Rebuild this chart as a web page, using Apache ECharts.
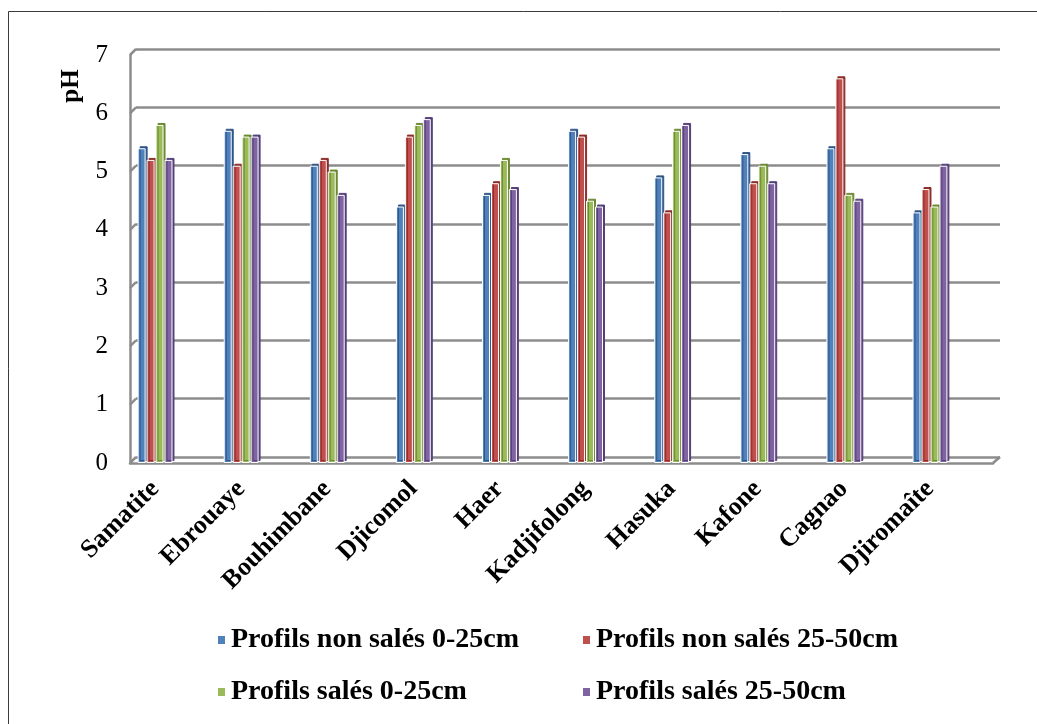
<!DOCTYPE html>
<html>
<head>
<meta charset="utf-8">
<script src="https://cdn.jsdelivr.net/npm/echarts@6/dist/echarts.min.js"></script>
<style>
  html, body { margin: 0; padding: 0; background: #fff; }
  #chart { width: 1037px; height: 724px; }
</style>
</head>
<body>
<div id="chart"></div>
<script>
// Sites along the category axis
const sites = ['Samatite', 'Ebrouaye', 'Bouhimbane', 'Djicomol', 'Haer', 'Kadjifolong', 'Hasuka', 'Kafone', 'Cagnao', 'Djiromaîte'];
// Series names
const seriesNames = ['Profils non salés 0-25cm', 'Profils non salés 25-50cm', 'Profils salés 0-25cm', 'Profils salés 25-50cm'];
// pH values per site
const nonSales0_25 = [5.4, 5.7, 5.1, 4.4, 4.6, 5.7, 4.9, 5.3, 5.4, 4.3];
const nonSales25_50 = [5.2, 5.1, 5.2, 5.6, 4.8, 5.6, 4.3, 4.8, 6.6, 4.7];
const sales0_25 = [5.8, 5.6, 5.0, 5.8, 5.2, 4.5, 5.7, 5.1, 4.6, 4.4];
const sales25_50 = [5.2, 5.6, 4.6, 5.9, 4.7, 4.4, 5.8, 4.8, 4.5, 5.1];
// pH axis ticks
const phTicks = [0, 1, 2, 3, 4, 5, 6, 7];

const colors = ['#4F81BD', '#C0504D', '#9BBB59', '#8064A2'];
const sideColors = ['#2f5687', '#8c2d2a', '#6b8a33', '#55407a'];
const gridGray = '#8c8c8c';
const serif = '"Liberation Serif", "Times New Roman", serif';
const yMin = phTicks[0];
const yMax = phTicks[phTicks.length - 1];

const values = [nonSales0_25, nonSales25_50, sales0_25, sales25_50];

// back wall, front edge and bar area of the pseudo-3D frame
const backGrid = { left: 136, right: 37, top: 49, bottom: 267 };
const frontGrid = { left: 130, right: 44, top: 55, bottom: 261 };
const barGrid = { left: 112, right: 64, top: 55, bottom: 261 };

const chart = echarts.init(document.getElementById('chart'), null, { renderer: 'canvas' });
const W = chart.getWidth();

const legendText = { color: '#000', fontFamily: serif, fontWeight: 'bold', fontSize: 28, lineHeight: 30 };

const option = {
  animation: false,
  backgroundColor: '#fff',
  grid: [backGrid, frontGrid, barGrid],
  xAxis: [
    { gridIndex: 0, type: 'value', min: 0, max: 1, show: false },
    {
      gridIndex: 1, type: 'category', data: sites,
      axisLine: { show: true, lineStyle: { color: gridGray, width: 2.5 } },
      axisTick: { show: false }, axisLabel: { show: false }, splitLine: { show: false }
    },
    {
      gridIndex: 2, type: 'category', data: sites,
      axisLine: { show: false }, axisTick: { show: false }, splitLine: { show: false },
      axisLabel: {
        interval: 0, rotate: 45, margin: 22,
        color: '#000', fontFamily: serif, fontWeight: 'bold', fontSize: 26
      }
    }
  ],
  yAxis: [
    {
      gridIndex: 0, type: 'value', min: yMin, max: yMax, interval: 1,
      axisLine: { show: false }, axisTick: { show: false }, axisLabel: { show: false },
      splitLine: { show: true, lineStyle: { color: gridGray, width: 2.5 } }
    },
    {
      gridIndex: 1, type: 'value', min: yMin, max: yMax, interval: 1,
      axisLine: { show: true, lineStyle: { color: gridGray, width: 2.5 } },
      axisTick: { show: false }, splitLine: { show: false },
      axisLabel: { margin: 22, color: '#000', fontFamily: serif, fontSize: 25 }
    },
    { gridIndex: 2, type: 'value', min: yMin, max: yMax, show: false }
  ],
  legend: [
    {
      data: [seriesNames[0], seriesNames[2]], orient: 'vertical', left: 211, top: 620,
      icon: 'rect', itemWidth: 9, itemHeight: 10, itemGap: 22,
      textStyle: legendText
    },
    {
      data: [seriesNames[1], seriesNames[3]], orient: 'vertical', left: 576, top: 620,
      icon: 'rect', itemWidth: 9, itemHeight: 10, itemGap: 22,
      textStyle: legendText
    }
  ],
  series: seriesNames.map((name, i) => ({
    name: name,
    type: 'bar',
    xAxisIndex: 2,
    yAxisIndex: 2,
    data: values[i],
    barWidth: 8,
    barGap: '12%',
    itemStyle: {
      color: colors[i],
      borderColor: '#fff',
      borderWidth: 1,
      shadowColor: sideColors[i],
      shadowBlur: 0,
      shadowOffsetX: 2,
      shadowOffsetY: -2
    },
    z: 3
  }))
};

chart.setOption(option);

// 3D frame edges: slanted joins between the front axis and the back wall
const frameGraphics = [];
const backLeft = backGrid.left;
const backRight = W - backGrid.right;
const frontLeft = frontGrid.left;
const frontRight = W - frontGrid.right;
phTicks.forEach(v => {
  const yFront = chart.convertToPixel({ yAxisIndex: 1 }, v);
  const yBack = chart.convertToPixel({ yAxisIndex: 0 }, v);
  frameGraphics.push({
    type: 'line',
    shape: { x1: frontLeft, y1: yFront, x2: backLeft, y2: yBack },
    style: { stroke: gridGray, lineWidth: 2.5 },
    z: 1
  });
});
const yFront0 = chart.convertToPixel({ yAxisIndex: 1 }, yMin);
const yBack0 = chart.convertToPixel({ yAxisIndex: 0 }, yMin);
frameGraphics.push({
  type: 'line',
  shape: { x1: frontRight, y1: yFront0, x2: backRight, y2: yBack0 },
  style: { stroke: gridGray, lineWidth: 2.5 },
  z: 1
});
// outer chart border
frameGraphics.push({
  type: 'rect',
  shape: { x: 8.5, y: 11.5, width: 1200, height: 900 },
  style: { fill: 'none', stroke: '#3a3a3a', lineWidth: 1 },
  z: 0
});
// value axis title
frameGraphics.push({
  type: 'text',
  x: 72, y: 86,
  rotation: Math.PI / 2,
  style: {
    text: 'pH', fill: '#000',
    font: 'bold 25px "Liberation Serif", "Times New Roman", serif',
    align: 'center', verticalAlign: 'middle'
  },
  z: 5
});

chart.setOption({ graphic: frameGraphics });
</script>
</body>
</html>
